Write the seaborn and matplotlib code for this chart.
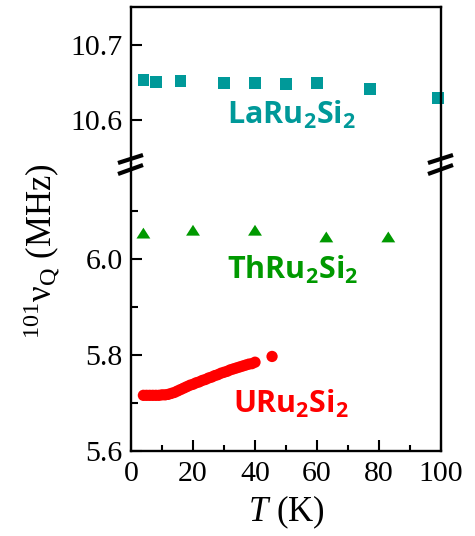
import numpy as np
import pandas as pd
import matplotlib
matplotlib.use("Agg")
import matplotlib.pyplot as plt
import seaborn as sns
from matplotlib.lines import Line2D
from matplotlib.ticker import FixedLocator, FormatStrFormatter

# ---------------- data ----------------
la_T = [4, 8, 16, 30, 40, 50, 60, 77, 99]
la_nu = [10.653, 10.651, 10.652, 10.649, 10.649, 10.648, 10.649, 10.641, 10.629]

th_T = [4, 20, 40, 63, 83]
th_nu = [6.054, 6.060, 6.060, 6.046, 6.046]

u_T = [4, 5, 6, 7, 8, 9, 10, 11, 12, 13, 14, 15, 16, 17, 18, 19, 20, 21, 22,
       23, 24, 25, 26, 27, 28, 29, 30, 31, 32, 33, 34, 35, 36, 37, 38, 39, 40,
       45.5]
u_nu = [5.716, 5.716, 5.716, 5.716, 5.716, 5.716, 5.717, 5.717, 5.718, 5.720,
        5.722, 5.725, 5.728, 5.731, 5.734, 5.737, 5.739, 5.742, 5.744, 5.747,
        5.749, 5.752, 5.754, 5.757, 5.759, 5.762, 5.764, 5.766, 5.769, 5.771,
        5.773, 5.775, 5.777, 5.779, 5.781, 5.782, 5.785, 5.797]

x_ticks = [0, 20, 40, 60, 80, 100]
x_minor = [10, 30, 50, 70, 90]
top_yticks = [10.6, 10.7]
bot_yticks = [5.6, 5.8, 6.0]
bot_yminor = [5.7, 5.9, 6.1]

c_la, c_th, c_u = "#009999", "#009900", "#ff0000"

# ---------------- style ----------------
sns.set_style("ticks")
SERIF = "Liberation Serif"
plt.rcParams["font.family"] = [SERIF, "DejaVu Serif"]
plt.rcParams["font.serif"] = [SERIF, "DejaVu Serif"]
plt.rcParams["mathtext.fontset"] = "custom"
plt.rcParams["mathtext.rm"] = SERIF
plt.rcParams["mathtext.it"] = SERIF + ":italic"
plt.rcParams["mathtext.bf"] = "Open Sans:bold"
for k in ("text.color", "axes.labelcolor", "xtick.color", "ytick.color",
          "axes.edgecolor", "xtick.labelcolor", "ytick.labelcolor"):
    plt.rcParams[k] = "black"

df_la = pd.DataFrame({"T": la_T, "nu": la_nu})
df_th = pd.DataFrame({"T": th_T, "nu": th_nu})
df_u = pd.DataFrame({"T": u_T, "nu": u_nu})

W_px, H_px = 475, 536
fig = plt.figure(figsize=(W_px / 100, H_px / 100), dpi=100)
L, R = 131 / W_px, 441 / W_px
ax_top = fig.add_axes([L, 1 - 164 / H_px, R - L, (164 - 7) / H_px])
ax_bot = fig.add_axes([L, 1 - 451 / H_px, R - L, (451 - 164) / H_px])

tri = [(-1, -0.78), (1, -0.78), (0, 0.78)]
sns.scatterplot(data=df_la, x="T", y="nu", ax=ax_top, marker="s", s=72,
                color=c_la, edgecolor="none", linewidth=0, clip_on=False)
sns.scatterplot(data=df_th, x="T", y="nu", ax=ax_bot, marker=tri, s=100,
                color=c_th, edgecolor="none", linewidth=0)
sns.scatterplot(data=df_u, x="T", y="nu", ax=ax_bot, marker="o", s=66,
                color=c_u, edgecolor="none", linewidth=0)

for ax in (ax_top, ax_bot):
    ax.set_xlim(0, 100)
    ax.set_xlabel("")
    ax.set_ylabel("")
    for sp in ax.spines.values():
        sp.set_linewidth(1.7)
        sp.set_color("black")
    ax.tick_params(axis="both", which="major", direction="in", length=8,
                   width=1.5, labelsize=21.5, color="black",
                   labelcolor="black", labelfontfamily=SERIF, pad=6)
    ax.tick_params(axis="both", which="minor", direction="in", length=4,
                   width=1.5, color="black")
    ax.tick_params(axis="y", which="minor", length=5)
    ax.yaxis.set_major_formatter(FormatStrFormatter("%.1f"))

ax_top.set_ylim(10.5413, 10.7507)
ax_top.spines["bottom"].set_visible(False)
ax_top.set_xticks([])
ax_top.yaxis.set_major_locator(FixedLocator(top_yticks))
ax_top.tick_params(axis="x", which="both", bottom=False, labelbottom=False)

ax_bot.set_ylim(5.6, 6.198)
ax_bot.spines["top"].set_visible(False)
ax_bot.xaxis.set_major_locator(FixedLocator(x_ticks))
ax_bot.xaxis.set_minor_locator(FixedLocator(x_minor))
ax_bot.yaxis.set_major_locator(FixedLocator(bot_yticks))
ax_bot.yaxis.set_minor_locator(FixedLocator(bot_yminor))
ax_bot.xaxis.set_major_formatter(FormatStrFormatter("%d"))
ax_bot.tick_params(axis="x", which="major", pad=7)

# series labels
ax_top.text(31, 10.595, r"$\mathbf{LaRu_2Si_2}$", color=c_la, fontsize=22,
            ha="left", va="baseline")
ax_bot.text(31, 5.958, r"$\mathbf{ThRu_2Si_2}$", color=c_th, fontsize=22,
            ha="left", va="baseline")
ax_bot.text(33, 5.679, r"$\mathbf{URu_2Si_2}$", color=c_u, fontsize=22,
            ha="left", va="baseline")

# axis labels
fig.text(286 / W_px, 1 - 512 / H_px, r"$T$ (K)", fontsize=25, color="black",
         family=SERIF, ha="center", va="center")
fig.text(42 / W_px, 1 - 251 / H_px, r"$^{\mathrm{101}}$ν$_{\mathrm{Q}}$ (MHz)",
         fontsize=25, rotation=90, ha="center", va="center", color="black",
         family=SERIF)

# axis-break marks (figure pixel coordinates)
def slash(x0, y0, x1, y1):
    fig.add_artist(Line2D([x0 / W_px, x1 / W_px], [1 - y0 / H_px, 1 - y1 / H_px],
                          transform=fig.transFigure, color="black", lw=3,
                          solid_capstyle="butt"))

for cx in (131, 441):
    slash(cx - 13, 163, cx + 12, 155)
    slash(cx - 13, 174, cx + 12, 165)

fig.savefig("out.png", dpi=100)
